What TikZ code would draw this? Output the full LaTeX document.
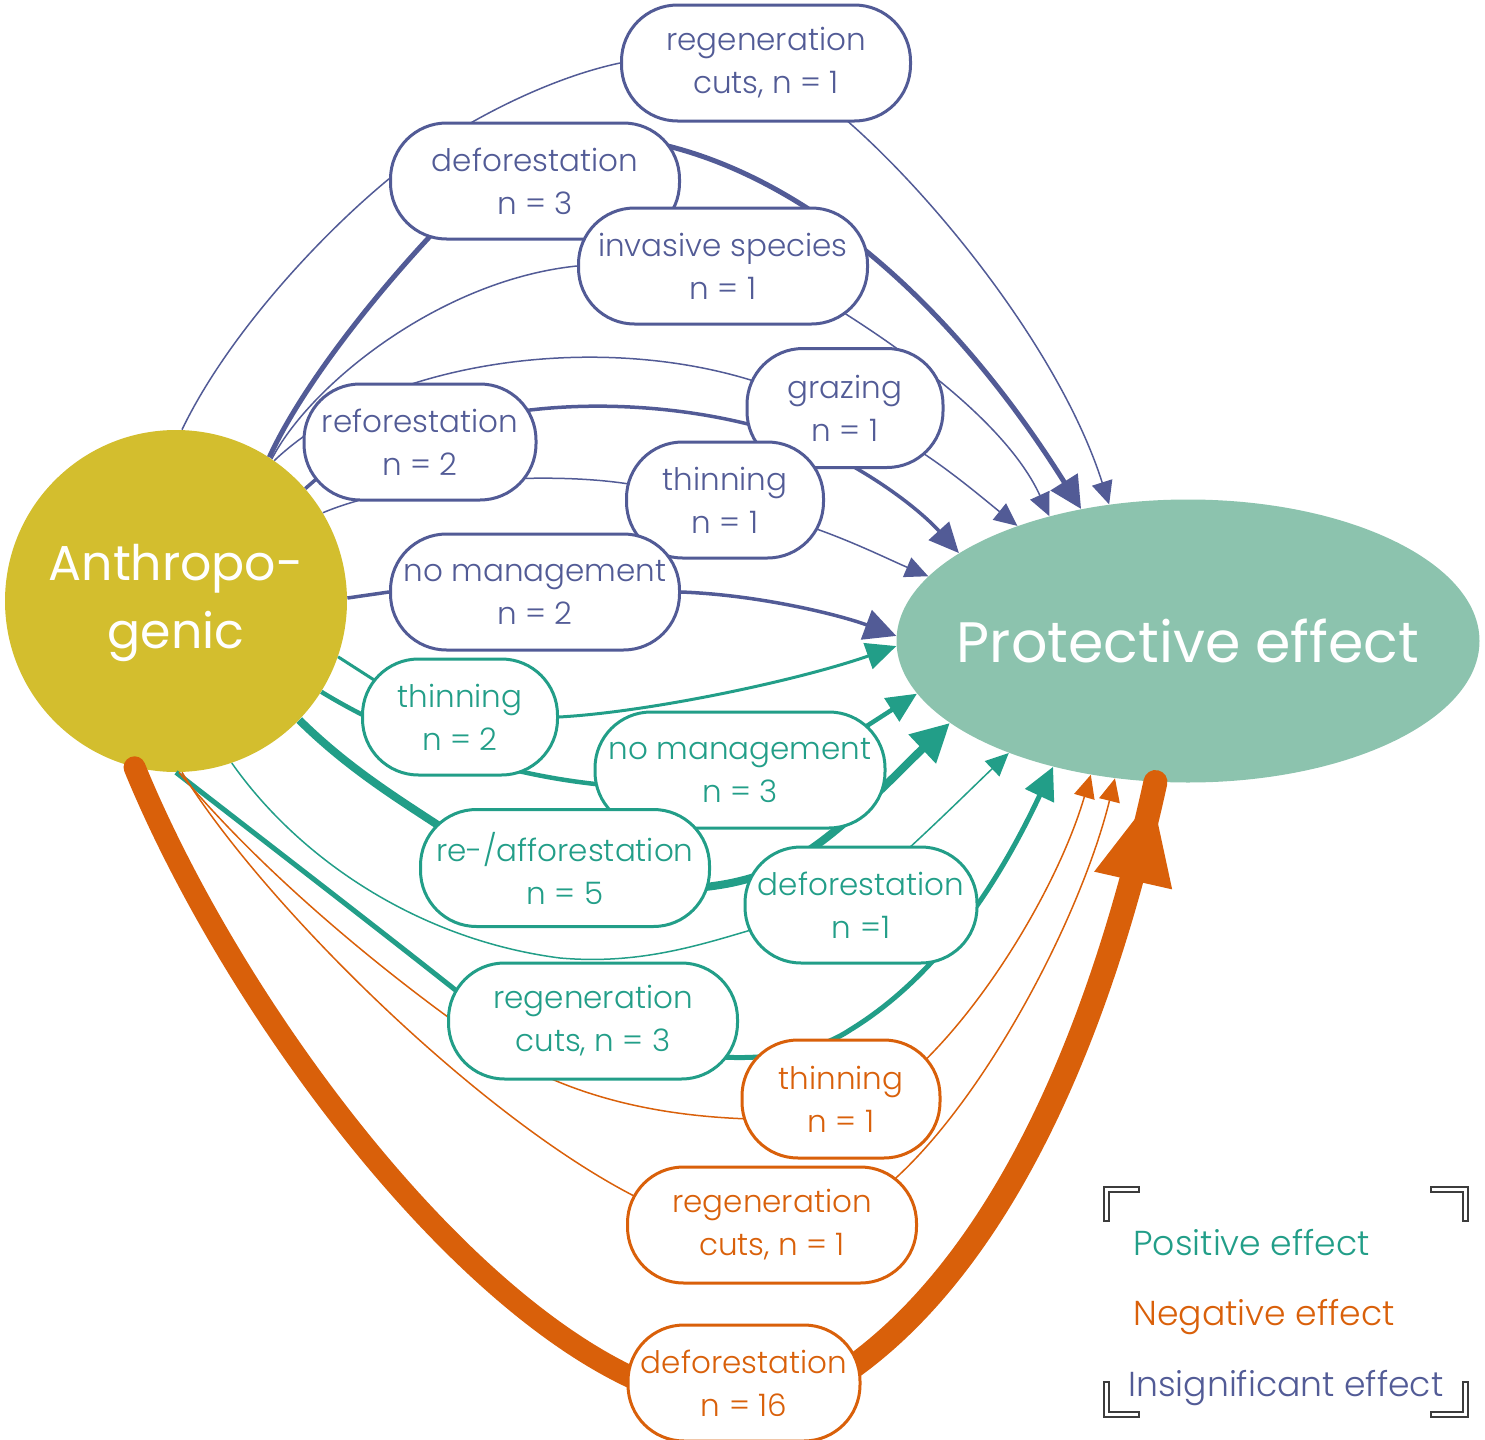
\documentclass[tikz,border=0pt]{standalone}
\usepackage{fontspec}
\setmainfont{Poppins}[UprightFont={* Light}]
\newfontfamily\headfont{Poppins}
\usetikzlibrary{shapes.geometric,arrows.meta,decorations.markings}
\pgfdeclarelayer{bg}
\pgfdeclarelayer{edges}
\pgfsetlayers{bg,edges,main}

\definecolor{cIns}{HTML}{525B96}
\definecolor{cPos}{HTML}{229E88}
\definecolor{cNeg}{HTML}{D9600A}
\definecolor{cAnth}{HTML}{D3BE2E}
\definecolor{cProt}{HTML}{8CC3AE}
\definecolor{cFrame}{HTML}{3C3C3C}

\tikzset{
  box/.style={draw, fill=white, line width=1.5pt, rounded corners=28pt,
    minimum height=58pt, inner sep=0pt, align=center,
    font=\fontsize{15.5}{21.5}\selectfont},
  insbox/.style={box, draw=cIns, text=cIns},
  posbox/.style={box, draw=cPos, text=cPos},
  negbox/.style={box, draw=cNeg, text=cNeg},
  wA/.style={line width=0.75pt},
  wB/.style={line width=1.5pt},
  wC/.style={line width=1.75pt},
  wD/.style={line width=2.25pt},
  wE/.style={line width=2.5pt},
  wF/.style={line width=4pt},
  arrS/.style={-{Triangle[length=11.5pt,width=10.5pt]}},
  arrM/.style={-{Triangle[length=15pt,width=13.5pt]}},
  arrL/.style={-{Triangle[length=16pt,width=15.5pt]}},
  arrX/.style={-{Triangle[length=19pt,width=19pt]}},
  legend/.style={anchor=base west, inner sep=0pt, font=\fontsize{17.3}{20}\selectfont},
}

\begin{document}
\begin{tikzpicture}[x=0.5pt, y=-0.5pt]
\useasboundingbox (0,0) rectangle (1485,1440);

% the two main nodes
\begin{pgfonlayer}{bg}
  \node[circle, fill=cAnth, minimum size=171pt, inner sep=0pt, text=white,
        font=\headfont\fontsize{24.5}{34}\selectfont] (anth) at (176,601)
        {\raisebox{-2pt}{\begin{tabular}{@{}c@{}}Anthropo-\\genic\end{tabular}}};
  \node[ellipse, fill=cProt, minimum width=291.5pt, minimum height=141.5pt,
        inner sep=0pt, text=white, font=\headfont\fontsize{28.5}{30}\selectfont] (prot) at (1188,641)
        {\makebox[0pt]{Protective effect}};
\end{pgfonlayer}

% insignificant effects
\node[insbox, minimum width=144.5pt] (b1) at (766,63)  {regeneration\\cuts, n = 1};
\node[insbox, minimum width=144.5pt] (b2) at (535,181) {deforestation\\n = 3};
\node[insbox, minimum width=144.5pt] (b3) at (723,266) {invasive species\\n = 1};
\node[insbox, minimum width=98pt, minimum height=59.5pt] (b4) at (845,408) {grazing\\n = 1};
\node[insbox, minimum width=116pt] (b5) at (420,442) {reforestation\\n = 2};
\node[insbox, minimum width=98.5pt] (b6) at (725,500) {thinning\\n = 1};
\node[insbox, minimum width=144.5pt] (b7) at (535,592) {no management\\n = 2};

% positive effects
\node[posbox, minimum width=97.5pt] (t1) at (460,717)  {thinning\\n = 2};
\node[posbox, minimum width=145pt]  (t2) at (740,770)  {no management\\n = 3};
\node[posbox, minimum width=144.5pt, minimum height=58.5pt] (t3) at (565,868) {re-/afforestation\\n = 5};
\node[posbox, minimum width=116pt]  (t4) at (861,905)  {deforestation\\n =1};
\node[posbox, minimum width=144.5pt] (t5) at (593,1021) {regeneration\\cuts, n = 3};

% negative effects
\node[negbox, minimum width=99pt, minimum height=59pt] (o1) at (841,1099) {thinning\\n = 1};
\node[negbox, minimum width=144.5pt] (o2) at (772,1225) {regeneration\\cuts, n = 1};
\node[negbox, minimum width=116pt]   (o3) at (744,1383) {deforestation\\n = 16};

\begin{pgfonlayer}{edges}
  % insignificant
  \draw[cIns, wA] (anth.88) .. controls (230,330) and (330,225) .. ([shift={(-135,-11)}]b2.center)
        .. controls (450,130) and (540,80) .. (b1.west);
  \draw[cIns, wA, arrS] ([shift={(72,50)}]b1.center) .. controls (930,190) and (1060,350) .. (prot.120.8);

  \draw[cIns, wE] (anth.57) .. controls (300,390) and (370,300) .. ([shift={(-100,50)}]b2.center);
  \draw[cIns, wE, arrL] ([shift={(110,-40)}]b2.center) .. controls (800,170) and (950,300) .. (prot.129.6);

  \draw[cIns, wA] (anth.56) .. controls (310,385) and (440,280) .. (b3.west);
  \draw[cIns, wA, arrS] ([shift={(110,40)}]b3.center) .. controls (920,360) and (1010,430) .. (prot.138.8);

  \draw[cIns, wA] (anth.55) .. controls (380,360) and (600,330) .. ([shift={(-85,-25)}]b4.center);
  \draw[cIns, wA, arrS] ([shift={(70,40)}]b4.center) .. controls (950,470) and (985,500) .. (prot.146.6);

  \draw[cIns, wC] (anth.41) -- ([shift={(-90,25)}]b5.center);
  \draw[cIns, wC, arrM] ([shift={(95,-30)}]b5.center) .. controls (610,398) and (720,410) .. ([shift={(-45,32)}]b4.center)
        .. controls (870,470) and (920,510) .. (prot.159.5);

  \draw[cIns, wA] (anth.31) .. controls (400,480) and (550,470) .. ([shift={(-90,-15)}]b6.center);
  \draw[cIns, wA, arrS] ([shift={(80,25)}]b6.center) .. controls (850,540) and (890,560) .. (prot.166.5);

  \draw[cIns, wC] (anth.1) -- (b7.west);
  \draw[cIns, wC, arrL] (b7.east) .. controls (760,595) and (840,615) .. (prot.179.4);

  % positive
  \draw[cPos, wB] (anth.-19) -- ([shift={(-75,-30)}]t1.center);
  \draw[cPos, wB, arrM] (t1.east) .. controls (650,712) and (800,680) .. (prot.181.8);

  \draw[cPos, wD] (anth.-32) .. controls (400,740) and (500,775) .. ([shift={(-135,15)}]t2.center);
  \draw[cPos, wD, arrM] ([shift={(105,-30)}]t2.center) -- (prot.191.1);

  \draw[cPos, wF] (anth.-44) .. controls (350,770) and (400,800) .. ([shift={(-115,-35)}]t3.center);
  \draw[cPos, wF, arrX] ([shift={(130,20)}]t3.center) .. controls (730,885) and (760,878) .. ([shift={(-71,-43)}]t4.center)
        .. controls (840,835) and (900,770) .. (prot.199.1);

  \draw[cPos, wA] (anth.-71) .. controls (300,860) and (420,940) .. ([shift={(-33,-63)}]t5.center)
        .. controls (640,965) and (700,945) .. ([shift={(-100,22)}]t4.center);
  \draw[cPos, wA, arrS] ([shift={(35,-45)}]t4.center) .. controls (940,820) and (975,785) .. (prot.212.8);

  \draw[cPos, wE] (anth.-90) .. controls (250,830) and (380,930) .. ([shift={(-130,-25)}]t5.center);
  \draw[cPos, wE, arrL] ([shift={(115,35)}]t5.center) .. controls (770,1062) and (820,1050) .. ([shift={(9,-69)}]o1.center)
        .. controls (940,975) and (1000,880) .. (prot.223.1);

  % negative
  \draw[cNeg, wA] (anth.-89) .. controls (260,870) and (380,970) .. ([shift={(-113,19)}]t5.center)
        .. controls (540,1080) and (620,1115) .. ([shift={(-90,20)}]o1.center);
  \draw[cNeg, wA, arrS] ([shift={(75,-30)}]o1.center) .. controls (990,1000) and (1060,880) .. (prot.234.8);

  \draw[cNeg, wA] (anth.-88) .. controls (260,900) and (480,1120) .. ([shift={(-130,-25)}]o2.center);
  \draw[cNeg, wA, arrS] ([shift={(110,-35)}]o2.center) .. controls (980,1110) and (1080,920) .. (prot.242.9);

  \draw[cNeg, line width=11pt, line cap=round] (anth.256) .. controls (230,1000) and (450,1300) .. ([shift={(-100,0)}]o3.center);
  \draw[cNeg, line width=12pt, line cap=round, postaction={decorate},
        decoration={markings, mark=at position 0.978 with {\arrow{Triangle[length=43pt,width=40pt,line width=0pt]}}}]
        ([shift={(100,-10)}]o3.center) .. controls (980,1280) and (1090,1080) .. (prot.257.5);
\end{pgfonlayer}

% legend
\node[legend, text=cPos] (lpos) at (1133,1255) {Positive effect};
\node[legend, text=cNeg] (lneg) at (1133,1325) {Negative effect};
\node[legend, text=cIns] (lins) at (1128,1396) {Insignificant effect};

% corner marks around the legend
\foreach \p in {{(1106,1222) -- (1106,1189) -- (1140,1189)},
                {(1430,1189) -- (1465,1189) -- (1465,1222)},
                {(1106,1381) -- (1106,1414) -- (1140,1414)},
                {(1430,1414) -- (1465,1414) -- (1465,1381)}}{
  \draw[cFrame, line width=3.5pt] \p;
  \draw[white, line width=1.5pt, shorten <=1pt, shorten >=1pt] \p;
}
\end{tikzpicture}
\end{document}
